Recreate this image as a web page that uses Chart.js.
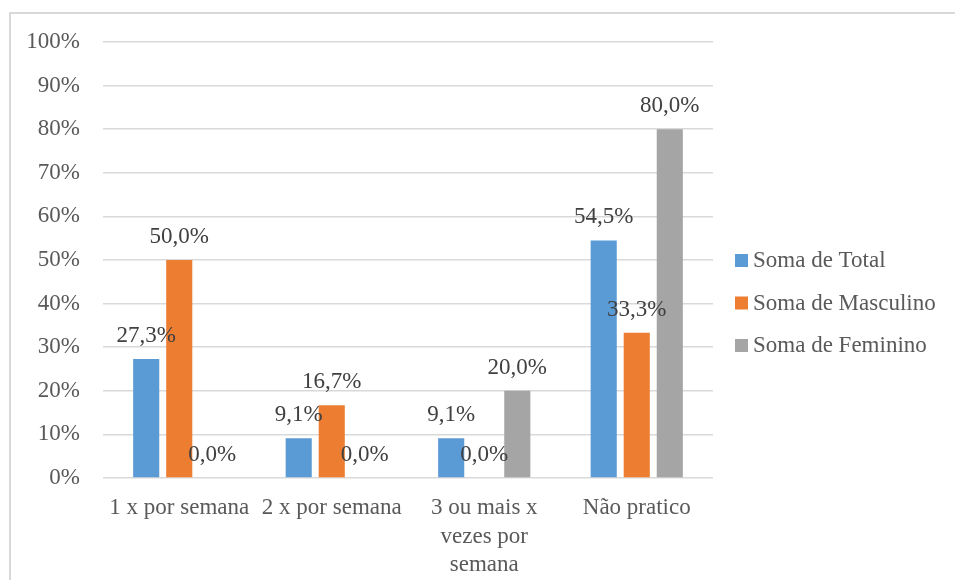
<!DOCTYPE html>
<html>
<head>
<meta charset="utf-8">
<script src="https://cdn.jsdelivr.net/npm/chart.js@4/dist/chart.umd.min.js"></script>
<style>
  html, body { margin: 0; padding: 0; background: #fff; overflow: hidden; }
  #frame { position: absolute; left: 9px; top: 12px; width: 960px; height: 600px; border: 2px solid #d9d9d9; box-sizing: border-box; }
  #c { position: absolute; left: 0; top: 0; }
</style>
</head>
<body>
<div id="frame"></div>
<canvas id="c" width="955" height="580"></canvas>
<script>
// dados
const categorias = ["1 x por semana", "2 x por semana", ["3 ou mais x", "vezes por", "semana"], "Não pratico"]
const series = ["Soma de Total", "Soma de Masculino", "Soma de Feminino"]
const total = [27.3, 9.1, 9.1, 54.5]
const masculino = [50.0, 16.7, 0.0, 33.3]
const feminino = [0.0, 0.0, 20.0, 80.0]
const cores = ["#5B9BD5", "#ED7D31", "#A5A5A5"]
const yTicks = [0, 10, 20, 30, 40, 50, 60, 70, 80, 90, 100]

const fonte = '"Liberation Serif", "Times New Roman", serif'

function fmt(v){
    return v.toFixed(1).replace('.', ',') + '%'
}

// rótulos das barras
const rotulos = {
    id: 'rotulos',
    afterDatasetsDraw(chart){
        const ctx = chart.ctx
        ctx.save()
        ctx.font = '23px ' + fonte
        ctx.fillStyle = '#404040'
        ctx.textAlign = 'center'
        ctx.textBaseline = 'middle'
        chart.data.datasets.forEach((ds, i) => {
            chart.getDatasetMeta(i).data.forEach((bar, j) => {
                ctx.fillText(fmt(ds.data[j]), bar.x, bar.y - 23)
            })
        })
        ctx.restore()
    }
}

// legenda à direita
const legenda = {
    id: 'legenda',
    afterDraw(chart){
        const ctx = chart.ctx
        const x = chart.chartArea.right + 22
        const y0 = 261
        ctx.save()
        ctx.font = '23px ' + fonte
        ctx.textBaseline = 'middle'
        ctx.textAlign = 'left'
        chart.data.datasets.forEach((ds, i) => {
            const y = y0 + i * 42.5
            ctx.fillStyle = ds.backgroundColor
            ctx.fillRect(x, y - 7, 13, 13)
            ctx.fillStyle = '#595959'
            ctx.fillText(ds.label, x + 18, y)
        })
        ctx.restore()
    }
}

const valores = [total, masculino, feminino]

new Chart(document.getElementById("c"), {
    type: 'bar',
    data: {
        labels: categorias,
        datasets: series.map((s, i) => ({
            label: s,
            data: valores[i],
            backgroundColor: cores[i],
            categoryPercentage: 0.65,
            barPercentage: 0.79
        }))
    },
    options: {
        responsive: false,
        animation: false,
        layout: { padding: { left: 20, top: 42, right: 242, bottom: 0 } },
        plugins: {
            legend: { display: false },
            tooltip: { enabled: false }
        },
        scales: {
            y: {
                min: 0,
                max: 100,
                afterBuildTicks(scale){
                    scale.ticks = yTicks.map(v => ({ value: v }))
                },
                afterFit(scale){ scale.width = 83 },
                grid: { color: '#d9d9d9', lineWidth: 1.5, drawTicks: false },
                border: { display: false },
                ticks: {
                    padding: 23,
                    color: '#595959',
                    font: { family: fonte, size: 23 },
                    callback: v => v + '%'
                }
            },
            x: {
                afterFit(scale){ scale.height = 102 },
                grid: { display: false, drawTicks: false },
                border: { display: false },
                ticks: {
                    padding: 16,
                    maxRotation: 0,
                    autoSkip: false,
                    color: '#595959',
                    font: { family: fonte, size: 23, lineHeight: 1.24 }
                }
            }
        }
    },
    plugins: [rotulos, legenda]
})
</script>
</body>
</html>
